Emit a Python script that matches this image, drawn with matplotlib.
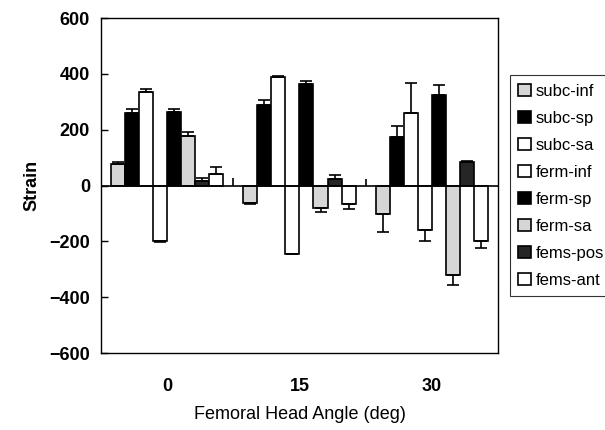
import numpy as np
import matplotlib.pyplot as plt

# data
angles = ["0", "15", "30"]
series = ["subc-inf", "subc-sp", "subc-sa", "ferm-inf", "ferm-sp", "ferm-sa", "fems-pos", "fems-ant"]
subc_inf = [78, -62, -101]
subc_sp = [259, 289, 175]
subc_sa = [334, 388, 260]
ferm_inf = [-200, -245, -160]
ferm_sp = [263, 365, 325]
ferm_sa = [178, -80, -322]
fems_pos = [17, 24, 85]
fems_ant = [42, -65, -198]

subc_inf_err = [8, 3, 66]
subc_sp_err = [15, 18, 39]
subc_sa_err = [12, 3, 108]
ferm_inf_err = [2, 2, 37]
ferm_sp_err = [11, 10, 36]
ferm_sa_err = [13, 13, 36]
fems_pos_err = [9, 12, 2]
fems_ant_err = [24, 20, 24]

# little stray error marks between the groups
stub_pos = [0.5, 1.5]
stub_val = [27, 22]

values = [subc_inf, subc_sp, subc_sa, ferm_inf, ferm_sp, ferm_sa, fems_pos, fems_ant]
errors = [subc_inf_err, subc_sp_err, subc_sa_err, ferm_inf_err, ferm_sp_err, ferm_sa_err, fems_pos_err, fems_ant_err]
colors = ["#d6d6d6", "black", "white", "white", "black", "#d6d6d6", "#262626", "white"]

plt.rcParams['font.family'] = ['Liberation Sans', 'DejaVu Sans']

fig = plt.figure(figsize=(6.05, 4.3), dpi=100)
ax = fig.add_axes([0.167, 0.179, 0.656, 0.779])

x = np.arange(len(angles))
w = 0.106
for i, (vals, errs, c, name) in enumerate(zip(values, errors, colors, series)):
    vals = np.array(vals)
    errs = np.array(errs)
    pos = x - 3.5 * w + i * w
    lower = np.where(vals < 0, errs, 0)
    upper = np.where(vals >= 0, errs, 0)
    ax.bar(pos, vals, w, color=c, edgecolor="black", linewidth=1.2, label=name,
           yerr=[lower, upper], capsize=4,
           error_kw=dict(ecolor="black", elinewidth=1.2, capthick=1.2))

ax.vlines(stub_pos, 0, stub_val, color="black", linewidth=1.2)
ax.axhline(0, color="black", linewidth=1.2)

ax.set_xlim(-0.5, 2.5)
ax.set_ylim(-600, 600)
ax.set_yticks(np.arange(-600, 601, 200))
ax.set_yticklabels(["\u2212600", "\u2212400", "\u2212200", "0", "200", "400", "600"])
ax.set_xticks(x)
ax.set_xticklabels(angles)
ax.tick_params(axis="y", direction="in", length=5, width=1, labelsize=13, pad=8)
ax.tick_params(axis="x", length=0, labelsize=13, pad=18)
for lab in ax.get_yticklabels() + ax.get_xticklabels():
    lab.set_fontweight("bold")
for s in ax.spines.values():
    s.set_linewidth(1)

ax.set_ylabel("Strain", fontsize=13, fontweight="bold", labelpad=6)
ax.set_xlabel("Femoral Head Angle (deg)", fontsize=13, labelpad=8)

leg = fig.legend(loc="upper left", bbox_to_anchor=(0.843, 0.825), fontsize=12,
                 frameon=True, fancybox=False, edgecolor="black",
                 handlelength=0.75, handleheight=0.75, handletextpad=0.3,
                 labelspacing=0.72, borderpad=0.5, borderaxespad=0)
leg.get_frame().set_linewidth(0.8)

fig.savefig("out.png", dpi=100)
